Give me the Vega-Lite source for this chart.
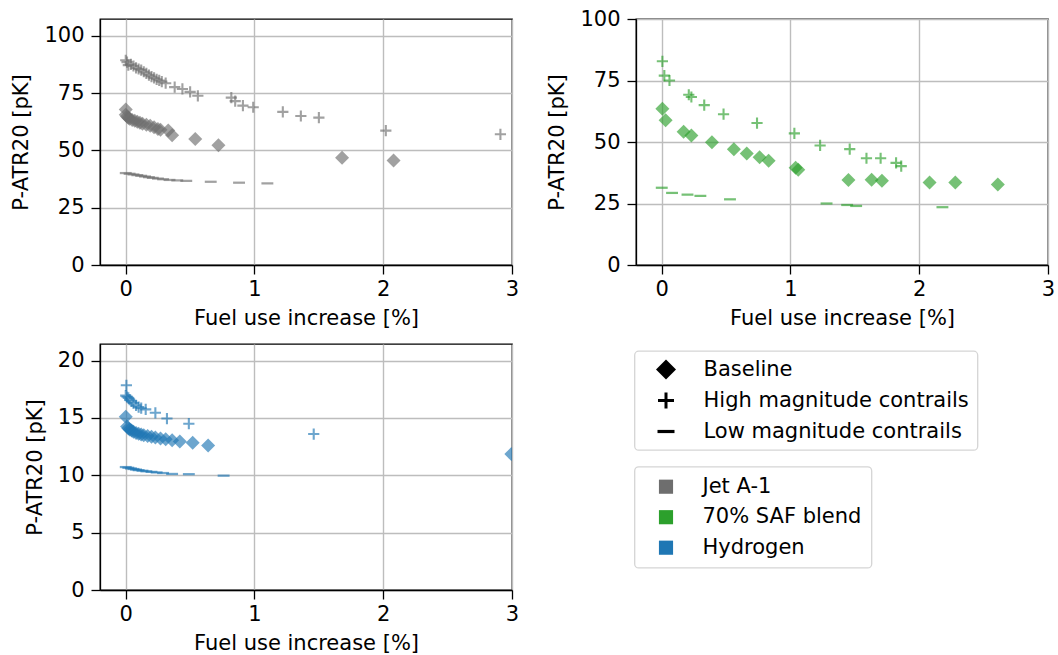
{
  "$schema": "https://vega.github.io/schema/vega-lite/v6.json",
  "padding": {"left": 10, "top": 7, "right": 5, "bottom": 5},
  "background": "white",
  "datasets": {
    "jet": [
      {"fuel": "Jet A-1", "type": "High magnitude contrails", "x": 0.0, "y": 89.3},
      {"fuel": "Jet A-1", "type": "High magnitude contrails", "x": 0.01, "y": 88.5},
      {"fuel": "Jet A-1", "type": "High magnitude contrails", "x": 0.02, "y": 87.2},
      {"fuel": "Jet A-1", "type": "High magnitude contrails", "x": 0.04, "y": 87.5},
      {"fuel": "Jet A-1", "type": "High magnitude contrails", "x": 0.06, "y": 86.8},
      {"fuel": "Jet A-1", "type": "High magnitude contrails", "x": 0.08, "y": 86.0},
      {"fuel": "Jet A-1", "type": "High magnitude contrails", "x": 0.1, "y": 85.5},
      {"fuel": "Jet A-1", "type": "High magnitude contrails", "x": 0.12, "y": 85.0},
      {"fuel": "Jet A-1", "type": "High magnitude contrails", "x": 0.14, "y": 84.3},
      {"fuel": "Jet A-1", "type": "High magnitude contrails", "x": 0.16, "y": 83.6},
      {"fuel": "Jet A-1", "type": "High magnitude contrails", "x": 0.18, "y": 82.8},
      {"fuel": "Jet A-1", "type": "High magnitude contrails", "x": 0.2, "y": 82.2},
      {"fuel": "Jet A-1", "type": "High magnitude contrails", "x": 0.22, "y": 81.6},
      {"fuel": "Jet A-1", "type": "High magnitude contrails", "x": 0.24, "y": 81.0},
      {"fuel": "Jet A-1", "type": "High magnitude contrails", "x": 0.26, "y": 80.5},
      {"fuel": "Jet A-1", "type": "High magnitude contrails", "x": 0.28, "y": 80.0},
      {"fuel": "Jet A-1", "type": "High magnitude contrails", "x": 0.31, "y": 79.3},
      {"fuel": "Jet A-1", "type": "High magnitude contrails", "x": 0.38, "y": 77.6},
      {"fuel": "Jet A-1", "type": "High magnitude contrails", "x": 0.44, "y": 76.8},
      {"fuel": "Jet A-1", "type": "High magnitude contrails", "x": 0.5, "y": 75.5},
      {"fuel": "Jet A-1", "type": "High magnitude contrails", "x": 0.56, "y": 73.8},
      {"fuel": "Jet A-1", "type": "High magnitude contrails", "x": 0.82, "y": 73.0},
      {"fuel": "Jet A-1", "type": "High magnitude contrails", "x": 0.85, "y": 71.5},
      {"fuel": "Jet A-1", "type": "High magnitude contrails", "x": 0.91, "y": 69.5},
      {"fuel": "Jet A-1", "type": "High magnitude contrails", "x": 0.99, "y": 68.8},
      {"fuel": "Jet A-1", "type": "High magnitude contrails", "x": 1.22, "y": 66.8},
      {"fuel": "Jet A-1", "type": "High magnitude contrails", "x": 1.36, "y": 65.0},
      {"fuel": "Jet A-1", "type": "High magnitude contrails", "x": 1.5, "y": 64.3},
      {"fuel": "Jet A-1", "type": "High magnitude contrails", "x": 2.02, "y": 58.6},
      {"fuel": "Jet A-1", "type": "High magnitude contrails", "x": 2.91, "y": 57.0},
      {"fuel": "Jet A-1", "type": "Baseline", "x": 0.0, "y": 67.8},
      {"fuel": "Jet A-1", "type": "Baseline", "x": 0.0, "y": 65.5},
      {"fuel": "Jet A-1", "type": "Baseline", "x": 0.01, "y": 64.8},
      {"fuel": "Jet A-1", "type": "Baseline", "x": 0.02, "y": 64.2},
      {"fuel": "Jet A-1", "type": "Baseline", "x": 0.03, "y": 63.8},
      {"fuel": "Jet A-1", "type": "Baseline", "x": 0.05, "y": 63.3},
      {"fuel": "Jet A-1", "type": "Baseline", "x": 0.07, "y": 62.9},
      {"fuel": "Jet A-1", "type": "Baseline", "x": 0.09, "y": 62.5},
      {"fuel": "Jet A-1", "type": "Baseline", "x": 0.11, "y": 62.0},
      {"fuel": "Jet A-1", "type": "Baseline", "x": 0.13, "y": 61.6},
      {"fuel": "Jet A-1", "type": "Baseline", "x": 0.16, "y": 61.2},
      {"fuel": "Jet A-1", "type": "Baseline", "x": 0.19, "y": 60.7},
      {"fuel": "Jet A-1", "type": "Baseline", "x": 0.22, "y": 60.1},
      {"fuel": "Jet A-1", "type": "Baseline", "x": 0.25, "y": 59.3},
      {"fuel": "Jet A-1", "type": "Baseline", "x": 0.27, "y": 59.0},
      {"fuel": "Jet A-1", "type": "Baseline", "x": 0.33, "y": 58.7},
      {"fuel": "Jet A-1", "type": "Baseline", "x": 0.36, "y": 56.6},
      {"fuel": "Jet A-1", "type": "Baseline", "x": 0.54, "y": 55.0},
      {"fuel": "Jet A-1", "type": "Baseline", "x": 0.72, "y": 52.2},
      {"fuel": "Jet A-1", "type": "Baseline", "x": 1.68, "y": 46.8},
      {"fuel": "Jet A-1", "type": "Baseline", "x": 2.08, "y": 45.6},
      {"fuel": "Jet A-1", "type": "Low magnitude contrails", "x": 0.0, "y": 40.1},
      {"fuel": "Jet A-1", "type": "Low magnitude contrails", "x": 0.03, "y": 39.8},
      {"fuel": "Jet A-1", "type": "Low magnitude contrails", "x": 0.06, "y": 39.5},
      {"fuel": "Jet A-1", "type": "Low magnitude contrails", "x": 0.09, "y": 39.2},
      {"fuel": "Jet A-1", "type": "Low magnitude contrails", "x": 0.12, "y": 38.9},
      {"fuel": "Jet A-1", "type": "Low magnitude contrails", "x": 0.15, "y": 38.6},
      {"fuel": "Jet A-1", "type": "Low magnitude contrails", "x": 0.18, "y": 38.3},
      {"fuel": "Jet A-1", "type": "Low magnitude contrails", "x": 0.21, "y": 38.0},
      {"fuel": "Jet A-1", "type": "Low magnitude contrails", "x": 0.25, "y": 37.7},
      {"fuel": "Jet A-1", "type": "Low magnitude contrails", "x": 0.29, "y": 37.4},
      {"fuel": "Jet A-1", "type": "Low magnitude contrails", "x": 0.34, "y": 37.1},
      {"fuel": "Jet A-1", "type": "Low magnitude contrails", "x": 0.4, "y": 36.9},
      {"fuel": "Jet A-1", "type": "Low magnitude contrails", "x": 0.47, "y": 36.7},
      {"fuel": "Jet A-1", "type": "Low magnitude contrails", "x": 0.66, "y": 36.3},
      {"fuel": "Jet A-1", "type": "Low magnitude contrails", "x": 0.88, "y": 35.9},
      {"fuel": "Jet A-1", "type": "Low magnitude contrails", "x": 1.1, "y": 35.6}
    ],
    "saf": [
      {"fuel": "70% SAF blend", "type": "High magnitude contrails", "x": 0.005, "y": 82.8},
      {"fuel": "70% SAF blend", "type": "High magnitude contrails", "x": 0.02, "y": 77.0},
      {"fuel": "70% SAF blend", "type": "High magnitude contrails", "x": 0.06, "y": 75.0},
      {"fuel": "70% SAF blend", "type": "High magnitude contrails", "x": 0.21, "y": 69.2},
      {"fuel": "70% SAF blend", "type": "High magnitude contrails", "x": 0.23, "y": 68.3},
      {"fuel": "70% SAF blend", "type": "High magnitude contrails", "x": 0.33, "y": 65.0},
      {"fuel": "70% SAF blend", "type": "High magnitude contrails", "x": 0.48, "y": 61.3},
      {"fuel": "70% SAF blend", "type": "High magnitude contrails", "x": 0.74, "y": 57.7},
      {"fuel": "70% SAF blend", "type": "High magnitude contrails", "x": 1.03, "y": 53.5},
      {"fuel": "70% SAF blend", "type": "High magnitude contrails", "x": 1.23, "y": 48.6},
      {"fuel": "70% SAF blend", "type": "High magnitude contrails", "x": 1.46, "y": 47.1},
      {"fuel": "70% SAF blend", "type": "High magnitude contrails", "x": 1.59, "y": 43.4},
      {"fuel": "70% SAF blend", "type": "High magnitude contrails", "x": 1.7, "y": 43.4},
      {"fuel": "70% SAF blend", "type": "High magnitude contrails", "x": 1.82, "y": 41.5},
      {"fuel": "70% SAF blend", "type": "High magnitude contrails", "x": 1.86, "y": 40.2},
      {"fuel": "70% SAF blend", "type": "Baseline", "x": 0.005, "y": 63.5},
      {"fuel": "70% SAF blend", "type": "Baseline", "x": 0.03, "y": 58.8},
      {"fuel": "70% SAF blend", "type": "Baseline", "x": 0.17, "y": 54.2},
      {"fuel": "70% SAF blend", "type": "Baseline", "x": 0.23, "y": 52.6},
      {"fuel": "70% SAF blend", "type": "Baseline", "x": 0.39, "y": 49.9},
      {"fuel": "70% SAF blend", "type": "Baseline", "x": 0.56, "y": 47.1},
      {"fuel": "70% SAF blend", "type": "Baseline", "x": 0.66, "y": 45.3},
      {"fuel": "70% SAF blend", "type": "Baseline", "x": 0.76, "y": 43.8},
      {"fuel": "70% SAF blend", "type": "Baseline", "x": 0.83, "y": 42.4},
      {"fuel": "70% SAF blend", "type": "Baseline", "x": 1.04, "y": 39.5},
      {"fuel": "70% SAF blend", "type": "Baseline", "x": 1.06, "y": 38.7},
      {"fuel": "70% SAF blend", "type": "Baseline", "x": 1.45, "y": 34.6},
      {"fuel": "70% SAF blend", "type": "Baseline", "x": 1.63, "y": 34.7},
      {"fuel": "70% SAF blend", "type": "Baseline", "x": 1.71, "y": 34.2},
      {"fuel": "70% SAF blend", "type": "Baseline", "x": 2.08, "y": 33.5},
      {"fuel": "70% SAF blend", "type": "Baseline", "x": 2.28, "y": 33.5},
      {"fuel": "70% SAF blend", "type": "Baseline", "x": 2.61, "y": 32.7},
      {"fuel": "70% SAF blend", "type": "Low magnitude contrails", "x": 0.0, "y": 31.4},
      {"fuel": "70% SAF blend", "type": "Low magnitude contrails", "x": 0.08, "y": 29.3},
      {"fuel": "70% SAF blend", "type": "Low magnitude contrails", "x": 0.2, "y": 28.6},
      {"fuel": "70% SAF blend", "type": "Low magnitude contrails", "x": 0.3, "y": 28.1},
      {"fuel": "70% SAF blend", "type": "Low magnitude contrails", "x": 0.53, "y": 26.7},
      {"fuel": "70% SAF blend", "type": "Low magnitude contrails", "x": 1.28, "y": 25.0},
      {"fuel": "70% SAF blend", "type": "Low magnitude contrails", "x": 1.44, "y": 24.4},
      {"fuel": "70% SAF blend", "type": "Low magnitude contrails", "x": 1.51, "y": 24.0},
      {"fuel": "70% SAF blend", "type": "Low magnitude contrails", "x": 2.18, "y": 23.5}
    ],
    "h2": [
      {"fuel": "Hydrogen", "type": "High magnitude contrails", "x": 0.005, "y": 17.85},
      {"fuel": "Hydrogen", "type": "High magnitude contrails", "x": 0.0, "y": 16.95},
      {"fuel": "Hydrogen", "type": "High magnitude contrails", "x": 0.01, "y": 16.85},
      {"fuel": "Hydrogen", "type": "High magnitude contrails", "x": 0.02, "y": 16.75},
      {"fuel": "Hydrogen", "type": "High magnitude contrails", "x": 0.03, "y": 16.6},
      {"fuel": "Hydrogen", "type": "High magnitude contrails", "x": 0.045, "y": 16.45},
      {"fuel": "Hydrogen", "type": "High magnitude contrails", "x": 0.06, "y": 16.3},
      {"fuel": "Hydrogen", "type": "High magnitude contrails", "x": 0.08, "y": 16.1},
      {"fuel": "Hydrogen", "type": "High magnitude contrails", "x": 0.1, "y": 15.95},
      {"fuel": "Hydrogen", "type": "High magnitude contrails", "x": 0.12, "y": 15.85},
      {"fuel": "Hydrogen", "type": "High magnitude contrails", "x": 0.155, "y": 15.75},
      {"fuel": "Hydrogen", "type": "High magnitude contrails", "x": 0.23, "y": 15.45},
      {"fuel": "Hydrogen", "type": "High magnitude contrails", "x": 0.32, "y": 14.95},
      {"fuel": "Hydrogen", "type": "High magnitude contrails", "x": 0.49, "y": 14.5},
      {"fuel": "Hydrogen", "type": "High magnitude contrails", "x": 1.46, "y": 13.6},
      {"fuel": "Hydrogen", "type": "Baseline", "x": 0.0, "y": 15.1},
      {"fuel": "Hydrogen", "type": "Baseline", "x": 0.01, "y": 14.25},
      {"fuel": "Hydrogen", "type": "Baseline", "x": 0.02, "y": 14.1},
      {"fuel": "Hydrogen", "type": "Baseline", "x": 0.03, "y": 14.0},
      {"fuel": "Hydrogen", "type": "Baseline", "x": 0.045, "y": 13.9},
      {"fuel": "Hydrogen", "type": "Baseline", "x": 0.06, "y": 13.8},
      {"fuel": "Hydrogen", "type": "Baseline", "x": 0.08, "y": 13.7},
      {"fuel": "Hydrogen", "type": "Baseline", "x": 0.1, "y": 13.62},
      {"fuel": "Hydrogen", "type": "Baseline", "x": 0.12, "y": 13.55},
      {"fuel": "Hydrogen", "type": "Baseline", "x": 0.14, "y": 13.5},
      {"fuel": "Hydrogen", "type": "Baseline", "x": 0.17, "y": 13.42},
      {"fuel": "Hydrogen", "type": "Baseline", "x": 0.2, "y": 13.36},
      {"fuel": "Hydrogen", "type": "Baseline", "x": 0.23, "y": 13.3},
      {"fuel": "Hydrogen", "type": "Baseline", "x": 0.27, "y": 13.22},
      {"fuel": "Hydrogen", "type": "Baseline", "x": 0.31, "y": 13.15},
      {"fuel": "Hydrogen", "type": "Baseline", "x": 0.36, "y": 13.05},
      {"fuel": "Hydrogen", "type": "Baseline", "x": 0.42, "y": 12.95},
      {"fuel": "Hydrogen", "type": "Baseline", "x": 0.52, "y": 12.85},
      {"fuel": "Hydrogen", "type": "Baseline", "x": 0.64, "y": 12.6},
      {"fuel": "Hydrogen", "type": "Baseline", "x": 2.995, "y": 11.85},
      {"fuel": "Hydrogen", "type": "Low magnitude contrails", "x": 0.0, "y": 10.72},
      {"fuel": "Hydrogen", "type": "Low magnitude contrails", "x": 0.02, "y": 10.66},
      {"fuel": "Hydrogen", "type": "Low magnitude contrails", "x": 0.04, "y": 10.6},
      {"fuel": "Hydrogen", "type": "Low magnitude contrails", "x": 0.06, "y": 10.55},
      {"fuel": "Hydrogen", "type": "Low magnitude contrails", "x": 0.08, "y": 10.5},
      {"fuel": "Hydrogen", "type": "Low magnitude contrails", "x": 0.1, "y": 10.45},
      {"fuel": "Hydrogen", "type": "Low magnitude contrails", "x": 0.13, "y": 10.4},
      {"fuel": "Hydrogen", "type": "Low magnitude contrails", "x": 0.16, "y": 10.35},
      {"fuel": "Hydrogen", "type": "Low magnitude contrails", "x": 0.2, "y": 10.3},
      {"fuel": "Hydrogen", "type": "Low magnitude contrails", "x": 0.24, "y": 10.25},
      {"fuel": "Hydrogen", "type": "Low magnitude contrails", "x": 0.29, "y": 10.2},
      {"fuel": "Hydrogen", "type": "Low magnitude contrails", "x": 0.36, "y": 10.12},
      {"fuel": "Hydrogen", "type": "Low magnitude contrails", "x": 0.49, "y": 10.1},
      {"fuel": "Hydrogen", "type": "Low magnitude contrails", "x": 0.76, "y": 9.97}
    ]
  },
  "columns": 2,
  "spacing": {"row": 79, "column": 124},
  "bounds": "flush",
  "concat": [
    {
      "width": 412, "height": 246,
      "data": {"name": "jet"},
      "mark": {"type": "point", "filled": true, "size": 196, "fillOpacity": 0.65, "clip": true},
      "encoding": {
        "x": {"field": "x", "type": "quantitative", "scale": {"domain": [-0.2, 3], "nice": false, "zero": false}, "axis": {"values": [0, 1, 2, 3], "format": "d", "title": "Fuel use increase [%]"}},
        "y": {"field": "y", "type": "quantitative", "scale": {"domain": [0, 107.3], "nice": false}, "axis": {"values": [0, 25, 50, 75, 100], "title": "P-ATR20 [pK]"}},
        "color": {"field": "fuel", "type": "nominal", "scale": {"domain": ["Jet A-1", "70% SAF blend", "Hydrogen"], "range": ["#6e6e6e", "#2ca02c", "#1f77b4"]}, "legend": {"title": null, "orient": "none", "legendX": 534.5, "legendY": 447.7, "padding": 9.5, "symbolType": "square", "symbolSize": 200, "symbolOffset": 11.5, "labelOffset": 26, "rowPadding": 8.5, "symbolOpacity": 1, "symbolFillOpacity": 1}},
        "shape": {"field": "type", "type": "nominal", "scale": {"domain": ["Baseline", "High magnitude contrails", "Low magnitude contrails"], "range": ["diamond", "M-0.8,-0.15L-0.15,-0.15L-0.15,-0.8L0.15,-0.8L0.15,-0.15L0.8,-0.15L0.8,0.15L0.15,0.15L0.15,0.8L-0.15,0.8L-0.15,0.15L-0.8,0.15Z", "M-0.85,-0.16L0.85,-0.16L0.85,0.16L-0.85,0.16Z"]}, "legend": {"title": null, "orient": "none", "legendX": 534.5, "legendY": 332, "padding": 8, "symbolSize": 400, "symbolFillColor": "black", "symbolStrokeColor": "black", "symbolStrokeWidth": 0, "symbolOffset": 13, "labelOffset": 27, "rowPadding": 9, "symbolOpacity": 1}}
      }
    },
    {
      "width": 412, "height": 246,
      "data": {"name": "saf"},
      "mark": {"type": "point", "filled": true, "size": 196, "fillOpacity": 0.65, "clip": true},
      "encoding": {
        "x": {"field": "x", "type": "quantitative", "scale": {"domain": [-0.2, 3], "nice": false, "zero": false}, "axis": {"values": [0, 1, 2, 3], "format": "d", "title": "Fuel use increase [%]"}},
        "y": {"field": "y", "type": "quantitative", "scale": {"domain": [0, 100], "nice": false}, "axis": {"values": [0, 25, 50, 75, 100], "title": "P-ATR20 [pK]"}},
        "color": {"field": "fuel", "type": "nominal", "scale": {"domain": ["Jet A-1", "70% SAF blend", "Hydrogen"], "range": ["#6e6e6e", "#2ca02c", "#1f77b4"]}, "legend": {"title": null, "orient": "none", "legendX": 534.5, "legendY": 447.7, "padding": 9.5, "symbolType": "square", "symbolSize": 200, "symbolOffset": 11.5, "labelOffset": 26, "rowPadding": 8.5, "symbolOpacity": 1, "symbolFillOpacity": 1}},
        "shape": {"field": "type", "type": "nominal", "scale": {"domain": ["Baseline", "High magnitude contrails", "Low magnitude contrails"], "range": ["diamond", "M-0.8,-0.15L-0.15,-0.15L-0.15,-0.8L0.15,-0.8L0.15,-0.15L0.8,-0.15L0.8,0.15L0.15,0.15L0.15,0.8L-0.15,0.8L-0.15,0.15L-0.8,0.15Z", "M-0.85,-0.16L0.85,-0.16L0.85,0.16L-0.85,0.16Z"]}, "legend": {"title": null, "orient": "none", "legendX": 534.5, "legendY": 332, "padding": 8, "symbolSize": 400, "symbolFillColor": "black", "symbolStrokeColor": "black", "symbolStrokeWidth": 0, "symbolOffset": 13, "labelOffset": 27, "rowPadding": 9, "symbolOpacity": 1}}
      }
    },
    {
      "width": 412, "height": 246,
      "data": {"name": "h2"},
      "mark": {"type": "point", "filled": true, "size": 196, "fillOpacity": 0.65, "clip": true},
      "encoding": {
        "x": {"field": "x", "type": "quantitative", "scale": {"domain": [-0.2, 3], "nice": false, "zero": false}, "axis": {"values": [0, 1, 2, 3], "format": "d", "title": "Fuel use increase [%]"}},
        "y": {"field": "y", "type": "quantitative", "scale": {"domain": [0, 21.45], "nice": false}, "axis": {"values": [0, 5, 10, 15, 20], "title": "P-ATR20 [pK]"}},
        "color": {"field": "fuel", "type": "nominal", "scale": {"domain": ["Jet A-1", "70% SAF blend", "Hydrogen"], "range": ["#6e6e6e", "#2ca02c", "#1f77b4"]}, "legend": {"title": null, "orient": "none", "legendX": 534.5, "legendY": 447.7, "padding": 9.5, "symbolType": "square", "symbolSize": 200, "symbolOffset": 11.5, "labelOffset": 26, "rowPadding": 8.5, "symbolOpacity": 1, "symbolFillOpacity": 1}},
        "shape": {"field": "type", "type": "nominal", "scale": {"domain": ["Baseline", "High magnitude contrails", "Low magnitude contrails"], "range": ["diamond", "M-0.8,-0.15L-0.15,-0.15L-0.15,-0.8L0.15,-0.8L0.15,-0.15L0.8,-0.15L0.8,0.15L0.15,0.15L0.15,0.8L-0.15,0.8L-0.15,0.15L-0.8,0.15Z", "M-0.85,-0.16L0.85,-0.16L0.85,0.16L-0.85,0.16Z"]}, "legend": {"title": null, "orient": "none", "legendX": 534.5, "legendY": 332, "padding": 8, "symbolSize": 400, "symbolFillColor": "black", "symbolStrokeColor": "black", "symbolStrokeWidth": 0, "symbolOffset": 13, "labelOffset": 27, "rowPadding": 9, "symbolOpacity": 1}}
      }
    }
  ],
  "config": {
    "font": "DejaVu Sans",
    "view": {"stroke": "black", "strokeWidth": 1.3},
    "axis": {
      "labelFont": "DejaVu Sans", "labelFontSize": 21, "labelColor": "black", "labelFlush": false,
      "titleFont": "DejaVu Sans", "titleFontSize": 21, "titleFontWeight": "normal", "titleColor": "black",
      "domainColor": "black", "domainWidth": 1.3, "tickColor": "black", "tickSize": 9, "tickWidth": 1.3,
      "gridColor": "#bdbdbd", "gridWidth": 1.4
    },
    "axisX": {"labelPadding": 4, "titlePadding": 8},
    "axisY": {"labelPadding": 7, "titlePadding": 12},
    "legend": {
      "labelFont": "DejaVu Sans", "labelFontSize": 21, "labelColor": "black", "labelLimit": 500,
      "strokeColor": "#d5d5d5", "strokeWidth": 1.3, "cornerRadius": 4, "fillColor": "white"
    }
  }
}
